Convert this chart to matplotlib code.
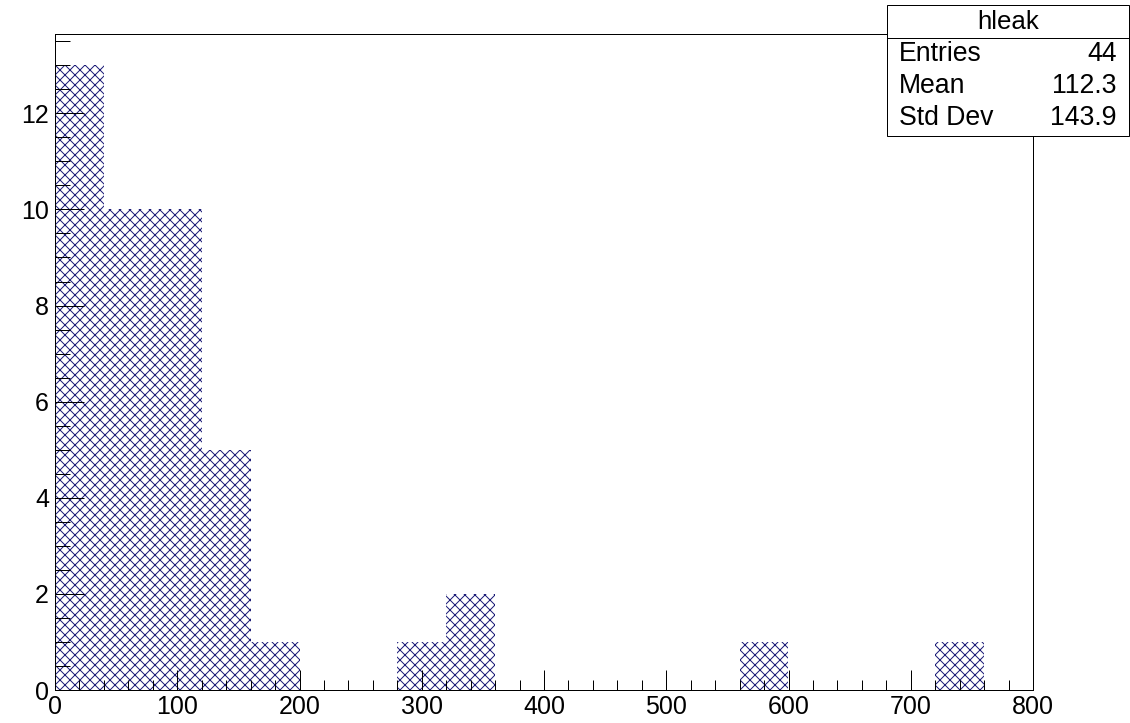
import matplotlib
matplotlib.use("Agg")
import matplotlib.pyplot as plt
from matplotlib.patches import Rectangle
from matplotlib.ticker import MultipleLocator

# histogram "hleak": 20 bins of width 40 from 0 to 800
bin_edges = [0, 40, 80, 120, 160, 200, 240, 280, 320, 360, 400,
             440, 480, 520, 560, 600, 640, 680, 720, 760, 800]
counts = [13, 10, 10, 5, 1, 0, 0, 1, 2, 0,
          0, 0, 0, 0, 1, 0, 0, 0, 1, 0]

# stats box entries
hist_name = "hleak"
stat_names = ["Entries", "Mean", "Std Dev"]
stat_values = ["44", "112.3", "143.9"]

plt.rcParams['font.family'] = ['Liberation Sans', 'DejaVu Sans']
plt.rcParams['hatch.linewidth'] = 0.6

DPI = 120
W, H = 1130, 723
px = 72.0 / DPI  # one pixel in points

fig = plt.figure(figsize=(W / DPI, H / DPI), dpi=DPI)
fig.patch.set_facecolor("white")

# main frame (pixel positions)
left, right, top, bottom = 55, 1033, 34, 690
ax = fig.add_axes([left / W, 1 - bottom / H, (right - left) / W, (bottom - top) / H])

widths = [bin_edges[i + 1] - bin_edges[i] for i in range(len(counts))]
ax.bar(bin_edges[:-1], counts, width=widths, align="edge",
       facecolor="white", edgecolor="#1c1c78", linewidth=0, hatch="xxxx")

ax.set_xlim(0, 800)
ax.set_ylim(0, 13.65)

for s in ax.spines.values():
    s.set_linewidth(1 * px)
    s.set_color("black")

ax.xaxis.set_major_locator(MultipleLocator(100))
ax.xaxis.set_minor_locator(MultipleLocator(20))
ax.yaxis.set_major_locator(MultipleLocator(2))
ax.yaxis.set_minor_locator(MultipleLocator(0.5))

ax.tick_params(axis="x", which="major", direction="in", length=20 * px, width=1 * px,
               labelsize=15, pad=5 * px)
ax.tick_params(axis="x", which="minor", direction="in", length=10 * px, width=1 * px)
ax.tick_params(axis="y", which="major", direction="in", length=29 * px, width=1 * px,
               labelsize=15, pad=6 * px)
ax.tick_params(axis="y", which="minor", direction="in", length=14.5 * px, width=1 * px)

# stats box in the top right corner, drawn over the frame
bx0, bx1, by0, by1, bysep = 887, 1129, 5, 136, 38
sax = fig.add_axes([bx0 / W, 1 - by1 / H, (bx1 - bx0) / W, (by1 - by0) / H])
sax.set_xlim(bx0, bx1)
sax.set_ylim(by1, by0)
sax.axis("off")
sax.add_patch(Rectangle((bx0, by0), bx1 - bx0, by1 - by0, facecolor="white",
                        edgecolor="black", linewidth=1 * px, clip_on=False))
sax.plot([bx0, bx1], [bysep, bysep], color="black", linewidth=1 * px)

sax.text((bx0 + bx1) / 2, 22, hist_name, ha="center", va="center", fontsize=15.5)
row_y = [54, 86, 118]
for name, val, y in zip(stat_names, stat_values, row_y):
    sax.text(899, y, name, ha="left", va="center", fontsize=16)
    sax.text(1117, y, val, ha="right", va="center", fontsize=16)

fig.savefig("out.png", dpi=DPI)
